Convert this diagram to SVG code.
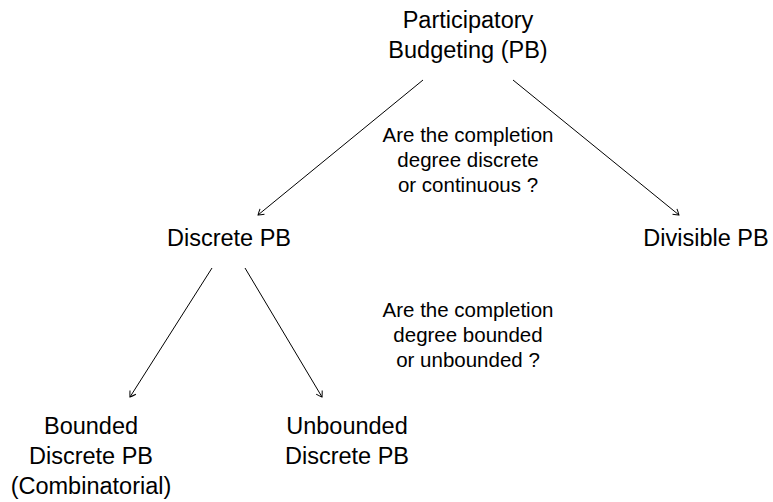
<svg xmlns="http://www.w3.org/2000/svg" width="773" height="502" viewBox="0 0 773 502">
<style>
.node{font-family:"Liberation Sans",Arial,sans-serif;font-size:23.5px;fill:#000;text-anchor:middle}
.cap{font-family:"Liberation Sans",Arial,sans-serif;font-size:20.5px;fill:#000;text-anchor:middle}
.edge{stroke:#000;stroke-width:1;fill:none;marker-end:url(#arr)}
</style>
<defs>
<marker id="arr" markerUnits="userSpaceOnUse" markerWidth="14" markerHeight="14" refX="7" refY="7" orient="auto">
<path d="M1.5,3.5 Q5,5.5 7,7 Q5,8.5 1.5,10.5" fill="none" stroke="#000" stroke-width="1"/>
</marker>
</defs>
<rect width="773" height="502" fill="#fff"/>
<g id="connectors">
<line class="edge" x1="423" y1="80" x2="258" y2="215"/>
<line class="edge" x1="513" y1="80" x2="679" y2="215"/>
<line class="edge" x1="212" y1="268" x2="130" y2="397"/>
<line class="edge" x1="245" y1="268" x2="322" y2="397"/>
</g>
<g id="node-pb">
<text class="node" x="468" y="28">Participatory</text>
<text class="node" x="468" y="58">Budgeting (PB)</text>
</g>
<g id="label-1">
<text class="cap" x="468" y="142">Are the completion</text>
<text class="cap" x="468" y="167">degree discrete</text>
<text class="cap" x="468" y="192">or continuous ?</text>
</g>
<g id="node-discrete">
<text class="node" x="229" y="246">Discrete PB</text>
</g>
<g id="node-divisible">
<text class="node" x="706" y="246">Divisible PB</text>
</g>
<g id="label-2">
<text class="cap" x="468" y="317">Are the completion</text>
<text class="cap" x="468" y="342">degree bounded</text>
<text class="cap" x="468" y="367">or unbounded ?</text>
</g>
<g id="node-bounded">
<text class="node" x="91" y="434">Bounded</text>
<text class="node" x="91" y="464">Discrete PB</text>
<text class="node" x="91" y="494">(Combinatorial)</text>
</g>
<g id="node-unbounded">
<text class="node" x="347" y="434">Unbounded</text>
<text class="node" x="347" y="464">Discrete PB</text>
</g>
</svg>
